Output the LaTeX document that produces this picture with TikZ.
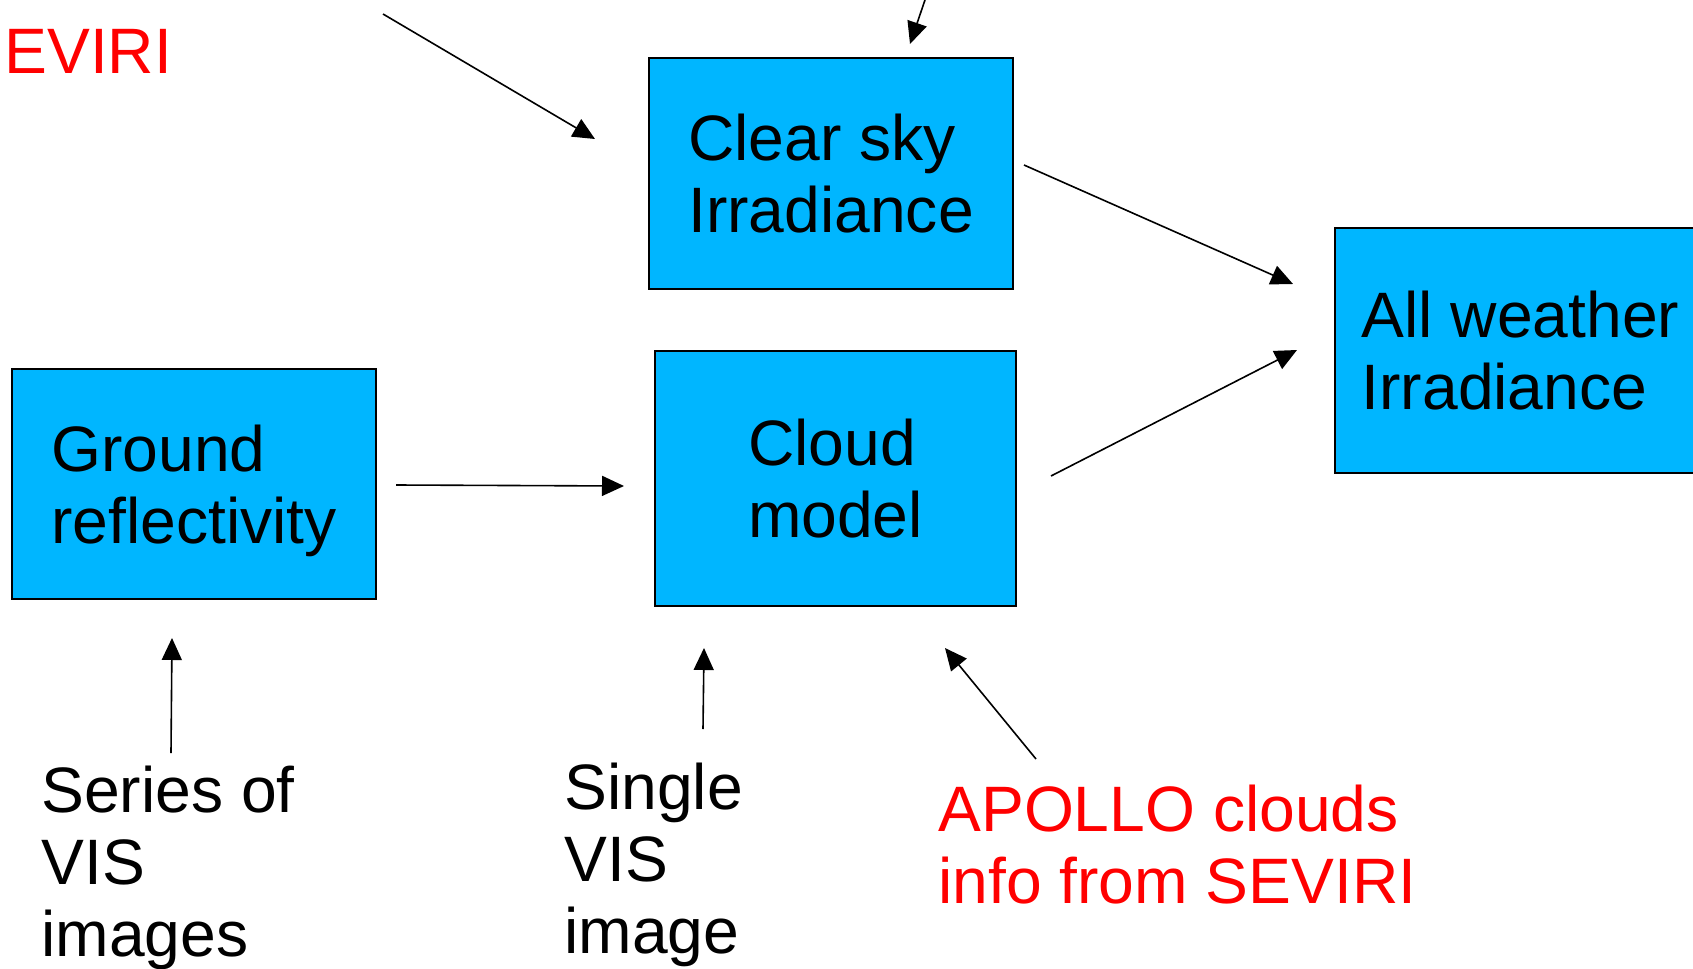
\documentclass[tikz,border=0pt]{standalone}
\usepackage{fontspec}
\setmainfont{Liberation Sans}
\usetikzlibrary{arrows.meta}
\definecolor{boxblue}{RGB}{0,182,255}
\definecolor{txtred}{RGB}{255,0,0}
\begin{document}
\begin{tikzpicture}[x=0.5pt,y=-0.5pt,
  box/.style={draw=black, line width=1pt, fill=boxblue, inner sep=0pt, anchor=north west,
    align=left, text depth=0pt, font=\fontsize{32.1pt}{36pt}\selectfont},
  lbl/.style={font=\fontsize{32.1pt}{36pt}\selectfont, align=left, anchor=base west, inner sep=0pt},
  redlbl/.style={lbl, text=txtred},
  arr/.style={-{Triangle[length=11pt,width=10pt]}, line width=0.8pt}]
\useasboundingbox (0,0) rectangle (1693,969);
\clip (0,0) rectangle (1693,969);
% boxes
\node[box, minimum width=182pt, minimum height=115.5pt] (clear) at (648,57) {Clear sky\\Irradiance};
\node[box, minimum width=185.5pt, minimum height=122.5pt] (allw) at (1334,227) {All weather\\Irradiance};
\node[box, minimum width=182pt, minimum height=115pt] (ground) at (11,368) {Ground\\reflectivity};
\node[box, minimum width=180.5pt, minimum height=127.5pt] (cloud) at (654,350) {Cloud\\model};
% free texts (base = baseline of last line)
\node[redlbl] (seviri) at (4,73) {EVIRI};
\node[lbl] (series) at (41,956) {Series of\\VIS\\images};
\node[lbl] (single) at (564,953) {Single\\VIS\\image};
\node[redlbl] (apollo) at (938,903) {APOLLO clouds\\info from SEVIRI};
% arrow end points
\coordinate (a1s) at (383,14);   \coordinate (a1e) at (595,139);
\coordinate (a2s) at (925,0);    \coordinate (a2e) at (910,44);
\coordinate (a3s) at (1024,165); \coordinate (a3e) at (1293,284);
\coordinate (a4s) at (1051,476); \coordinate (a4e) at (1297,350);
\coordinate (a5s) at (396,485);  \coordinate (a5e) at (624,486);
\coordinate (a6s) at (171,753);  \coordinate (a6e) at (172,638);
\coordinate (a7s) at (703,729);  \coordinate (a7e) at (704,648);
\coordinate (a8s) at (1036,759); \coordinate (a8e) at (945,648);
% connectors
\draw[arr] (a1s) -- (a1e);
\draw[arr] (a2s) -- (a2e);
\draw[arr] (a3s) -- (a3e);
\draw[arr] (a4s) -- (a4e);
\draw[arr] (a5s) -- (a5e);
\draw[arr] (a6s) -- (a6e);
\draw[arr] (a7s) -- (a7e);
\draw[arr] (a8s) -- (a8e);
\end{tikzpicture}
\end{document}
